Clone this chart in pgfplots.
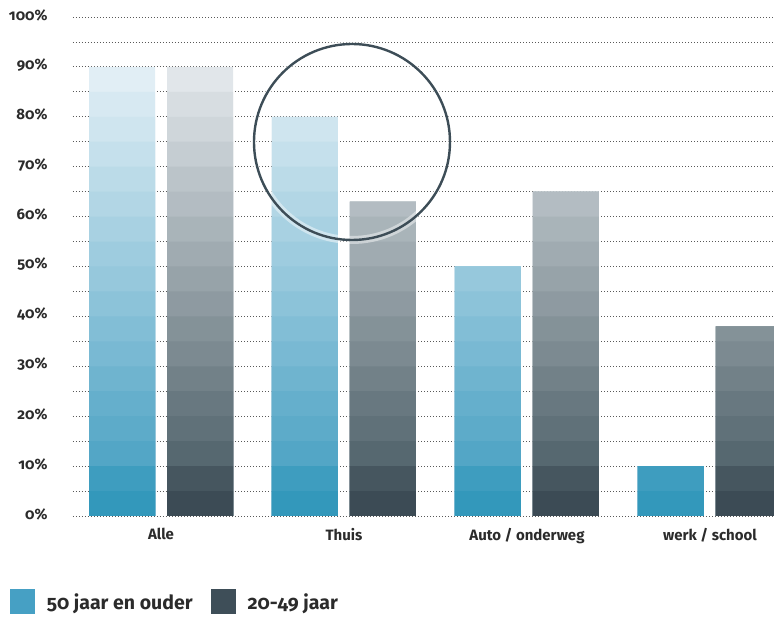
\documentclass[border=0pt]{standalone}
\usepackage{pgfplots}
\pgfplotsset{compat=1.18}
\usepackage{pgfplotstable}
\usepackage{fontspec}
\setmainfont{Fira Sans}[Numbers=OldStyle]

\definecolor{bA}{HTML}{3398BB}
\definecolor{bB}{HTML}{3E9DBF}
\definecolor{bLo}{HTML}{53A6C6}
\definecolor{bHi}{HTML}{E1EEF5}
\definecolor{dA}{HTML}{3C4B55}
\definecolor{dB}{HTML}{46565F}
\definecolor{dLo}{HTML}{566870}
\definecolor{dHi}{HTML}{E1E6EA}
\definecolor{legblue}{HTML}{46A0C4}
\definecolor{legdark}{HTML}{3E4E58}
\definecolor{circ}{HTML}{3D4D57}
\definecolor{txt}{HTML}{2B2B2B}

\colorlet{b1}{bA}\colorlet{d1}{dA}
\colorlet{b2}{bB}\colorlet{d2}{dB}
\newcommand\mk[2]{\colorlet{b#1}{bHi!#2!bLo}\colorlet{d#1}{dHi!#2!dLo}}
\mk{3}{0}\mk{4}{7}\mk{5}{13}\mk{6}{20}\mk{7}{27}\mk{8}{33}\mk{9}{40}\mk{10}{47}
\mk{11}{53}\mk{12}{60}\mk{13}{67}\mk{14}{73}\mk{15}{80}\mk{16}{87}\mk{17}{93}\mk{18}{100}

\pgfplotstableread{
x blue dark
0 90 90
1 80 63
2 50 65
3 10 38
}\datatable

\tikzset{dotgrid/.style={color=black!65, line width=0.8pt, dash pattern=on 0.8pt off 2.2pt}}

\begin{document}
\begin{tikzpicture}
\useasboundingbox (0,0) rectangle (774pt,618pt);
\begin{axis}[
  at={(73pt,102pt)}, anchor=south west,
  scale only axis, width=701pt, height=499pt,
  xmin=-0.481, xmax=3.350, ymin=0, ymax=100,
  axis line style={draw=none}, tick style={draw=none},
  ytick={0,10,...,100}, minor ytick={5,15,...,95},
  ymajorgrids, yminorgrids,
  major grid style={dotgrid}, minor grid style={dotgrid},
  /pgf/number format/assume math mode=true,
  yticklabel={\pgfmathprintnumber{\tick}\%},
  yticklabel style={font=\bfseries\fontsize{15}{17}\selectfont, text=txt, anchor=east, xshift=-22pt, yshift=2pt},
  xtick={0,1,2,3},
  xticklabels={Alle,Thuis,Auto / onderweg,werk / school},
  xticklabel style={font=\bfseries\fontsize{15}{17}\selectfont, text=txt, yshift=-9pt},
  legend columns=2,
  legend image code/.code={\fill[#1] (0pt,-12.5pt) rectangle (25pt,12.5pt); \path (35pt,0pt);},
  legend style={at={(-0.0899,-0.1723)}, anchor=west, draw=none, fill=none,
    inner sep=0pt, outer sep=0pt, text=txt,
    font=\bfseries\fontsize{19.5}{22}\selectfont,
    /tikz/every even column/.append style={column sep=16pt}},
  legend cell align=left,
]
\pgfplotsinvokeforeach{18,17,...,1}{
  \addplot[ybar, bar width=66pt, bar shift=-39pt, fill=b#1, draw=none, forget plot]
    table[x=x, y expr={min(\thisrow{blue},5*#1)}] \datatable;
  \addplot[ybar, bar width=66pt, bar shift=39pt, fill=d#1, draw=none, forget plot]
    table[x=x, y expr={min(\thisrow{dark},5*#1)}] \datatable;
}
\addlegendimage{fill=legblue, draw=none}
\addlegendentry{50 jaar en ouder}
\addlegendimage{fill=legdark, draw=none}
\addlegendentry{20-49 jaar}
\draw[white, opacity=0.45, line width=8pt] (axis cs:1.0437,74.95) circle[radius=98pt];
\draw[circ, line width=2.4pt] (axis cs:1.0437,74.95) circle[radius=98pt];
\end{axis}
\end{tikzpicture}
\end{document}
